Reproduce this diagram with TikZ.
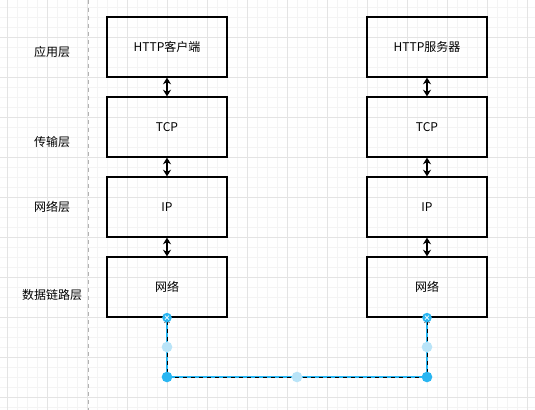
\documentclass[tikz,border=0pt]{standalone}
\usepackage{fontspec}
\setmainfont{Noto Sans CJK SC}
\usetikzlibrary{arrows.meta}
\definecolor{gridminor}{HTML}{F4F4F4}
\definecolor{gridmajor}{HTML}{E4E4E4}
\definecolor{selblue}{HTML}{29B6F2}
\definecolor{selpale}{HTML}{B9E4F8}
\tikzset{
  layerbox/.style={draw, line width=0.9pt, minimum width=90pt, minimum height=45pt, font=\fontsize{9}{11}\selectfont},
  layername/.style={font=\fontsize{9}{11}\selectfont},
  linkarrow/.style={{Stealth[length=5pt,width=6pt]}-{Stealth[length=5pt,width=6pt]}, line width=1pt},
}
\begin{document}
\begin{tikzpicture}[x=0.75pt, y=-0.75pt]
        \useasboundingbox (0,0) rectangle (535,410);
        \fill[white] (0,0) rectangle (535,410);

        % Grid
        \foreach \gx in {7,17,...,535} \draw[gridminor, line width=0.4pt] (\gx,0) -- (\gx,410);
        \foreach \gy in {7,17,...,410} \draw[gridminor, line width=0.4pt] (0,\gy) -- (535,\gy);
        \foreach \gx in {7,47,...,535} \draw[gridmajor, line width=0.5pt] (\gx,0) -- (\gx,410);
        \foreach \gy in {37,77,...,410} \draw[gridmajor, line width=0.5pt] (0,\gy) -- (535,\gy);

        % Divider
        \draw[gray!60, dashed, line width=0.5pt] (88,0) -- (88,410);

        % Layer names
        \node[layername] (nApp) at (52,52) {应用层};
        \node[layername] (nTrans) at (52,142) {传输层};
        \node[layername] (nNet) at (52,207) {网络层};
        \node[layername] (nLink) at (52,295) {数据链路层};

        % Client stack
        \node[layerbox] (cHttp) at (167,47) {HTTP客户端};
        \node[layerbox] (cTcp) at (167,127) {TCP};
        \node[layerbox] (cIp) at (167,207) {IP};
        \node[layerbox] (cNet) at (167,287) {网络};

        % Server stack
        \node[layerbox] (sHttp) at (427,47) {HTTP服务器};
        \node[layerbox] (sTcp) at (427,127) {TCP};
        \node[layerbox] (sIp) at (427,207) {IP};
        \node[layerbox] (sNet) at (427,287) {网络};

        % Links inside each stack
        \draw[linkarrow] (cHttp) -- (cTcp);
        \draw[linkarrow] (cTcp) -- (cIp);
        \draw[linkarrow] (cIp) -- (cNet);
        \draw[linkarrow] (sHttp) -- (sTcp);
        \draw[linkarrow] (sTcp) -- (sIp);
        \draw[linkarrow] (sIp) -- (sNet);

        % Selected connector between the two stacks
        \coordinate (lBend) at (167,377);
        \coordinate (rBend) at (427,377);
        \draw[selblue, line width=1pt] (cNet.south) -- (lBend) -- (rBend) -- (sNet.south);
        \draw[{Stealth[length=4pt,width=4pt]}-{Stealth[length=4pt,width=4pt]}, dashed, line width=0.6pt]
            (cNet.south) -- (lBend) -- (rBend) -- (sNet.south);

        % Handles
        \fill[selpale] (167,347) circle (4pt);
        \fill[selpale] (427,347) circle (4pt);
        \fill[selpale] (297,377) circle (4pt);
        \fill[selblue] (lBend) circle (4pt);
        \fill[selblue] (rBend) circle (4pt);
        \fill[selblue] (cNet.south) circle (3.6pt);
        \fill[selblue] (sNet.south) circle (3.6pt);
        \draw[white, line width=0.6pt] ([shift={(-2,-2)}]cNet.south) -- ([shift={(2,2)}]cNet.south)
            ([shift={(-2,2)}]cNet.south) -- ([shift={(2,-2)}]cNet.south);
        \draw[white, line width=0.6pt] ([shift={(-2,-2)}]sNet.south) -- ([shift={(2,2)}]sNet.south)
            ([shift={(-2,2)}]sNet.south) -- ([shift={(2,-2)}]sNet.south);

    \end{tikzpicture}
\end{document}
